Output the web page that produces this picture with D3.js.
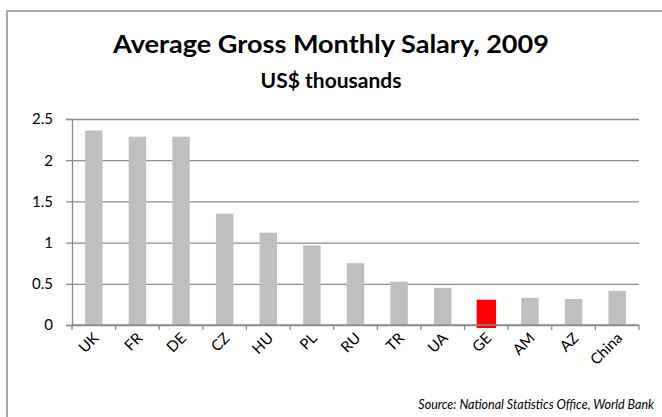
<!DOCTYPE html>
<html>
<head>
<meta charset="utf-8">
<script src="https://cdn.jsdelivr.net/npm/d3@7"></script>
<style>
  body { margin: 0; background: #fff; }
  text { font-family: Lato, "Open Sans", sans-serif; }
</style>
</head>
<body>
<div id="chart"></div>
<script>
(function () {

	var countries = ['UK', 'FR', 'DE', 'CZ', 'HU', 'PL', 'RU', 'TR', 'UA', 'GE', 'AM', 'AZ', 'China'];
	var salary = [2.36, 2.285, 2.285, 1.35, 1.12, 0.965, 0.75, 0.525, 0.45, 0.307, 0.33, 0.315, 0.415];
	var yTicks = [0, 0.5, 1, 1.5, 2, 2.5];
	var highlight = 'GE';

	var width = 662, height = 417;
	var left = 72, right = 639, top = 119, bottom = 325;

	var svg = d3.select('#chart').append('svg')
		.attr('width', width)
		.attr('height', height);

	// chart frame
	svg.append('rect')
		.attr('x', 7).attr('y', 11)
		.attr('width', 700).attr('height', 450)
		.attr('fill', 'none')
		.attr('stroke', '#8c8c8c')
		.attr('stroke-width', 1.5);

	svg.append('text')
		.attr('x', 331).attr('y', 53)
		.attr('text-anchor', 'middle')
		.attr('font-size', 25)
		.attr('font-weight', 'bold')
		.attr('textLength', 436)
		.attr('lengthAdjust', 'spacingAndGlyphs')
		.text('Average Gross Monthly  Salary, 2009');

	svg.append('text')
		.attr('x', 331).attr('y', 88)
		.attr('text-anchor', 'middle')
		.attr('font-size', 21)
		.attr('font-weight', 'bold')
		.text('US$ thousands');

	var x = d3.scaleBand().domain(countries).range([left, right]).paddingInner(0.6).paddingOuter(0.3);
	var xb = d3.scaleBand().domain(countries).range([left, right]);
	var y = d3.scaleLinear().domain([0, 2.5]).range([bottom, top]);

	// gridlines
	svg.append('g')
		.attr('transform', 'translate(' + left + ',0)')
		.call(d3.axisLeft(y).tickValues(yTicks).tickSize(-(right - left)).tickFormat(''))
		.call(function (g) { g.select('.domain').remove(); })
		.selectAll('line')
		.attr('stroke', '#8c8c8c')
		.attr('stroke-width', 1.3);

	// y axis
	var ya = svg.append('g')
		.attr('transform', 'translate(' + left + ',0)')
		.call(d3.axisLeft(y).tickValues(yTicks).tickSize(6).tickPadding(13).tickFormat(d3.format('')));
	ya.selectAll('line, path').attr('stroke', '#8c8c8c').attr('stroke-width', 1.3);
	ya.selectAll('text')
		.attr('font-family', 'Lato, sans-serif')
		.attr('font-size', 15)
		.attr('fill', '#000');

	// bars
	svg.selectAll('rect.bar')
		.data(countries)
		.enter()
		.append('rect')
		.attr('class', 'bar')
		.attr('x', function (d) { return d === highlight ? x(d) - 1 : x(d); })
		.attr('width', function (d) { return d === highlight ? x.bandwidth() + 2 : x.bandwidth(); })
		.attr('y', function (d, i) { return y(salary[i]); })
		.attr('height', function (d, i) { return d === highlight ? y(0) - y(salary[i]) + 3 : y(0) - y(salary[i]); })
		.attr('fill', function (d) { return d === highlight ? '#ff0000' : '#bfbfbf'; });

	// x axis with ticks on the band edges
	var edges = countries.map(function (d) { return xb(d); }).concat([right]);
	var xa = svg.append('g').attr('transform', 'translate(0,' + bottom + ')');
	xa.append('line')
		.attr('x1', left).attr('x2', right)
		.attr('stroke', '#8c8c8c').attr('stroke-width', 1.3);
	xa.selectAll('line.tick')
		.data(edges)
		.enter()
		.append('line')
		.attr('class', 'tick')
		.attr('x1', function (d) { return d; })
		.attr('x2', function (d) { return d; })
		.attr('y1', 0).attr('y2', 5)
		.attr('stroke', '#8c8c8c').attr('stroke-width', 1.3);
	xa.selectAll('text')
		.data(countries)
		.enter()
		.append('text')
		.attr('text-anchor', 'end')
		.attr('font-size', 15)
		.attr('transform', function (d) {
			return 'translate(' + (xb(d) + xb.bandwidth() / 2 + 6) + ',14) rotate(-45)';
		})
		.text(function (d) { return d; });

	svg.append('text')
		.attr('x', 654).attr('y', 409)
		.attr('text-anchor', 'end')
		.attr('font-size', 12.5)
		.attr('font-style', 'italic')
		.text('Source: National Statistics Office, World Bank');

})();
</script>
</body>
</html>
